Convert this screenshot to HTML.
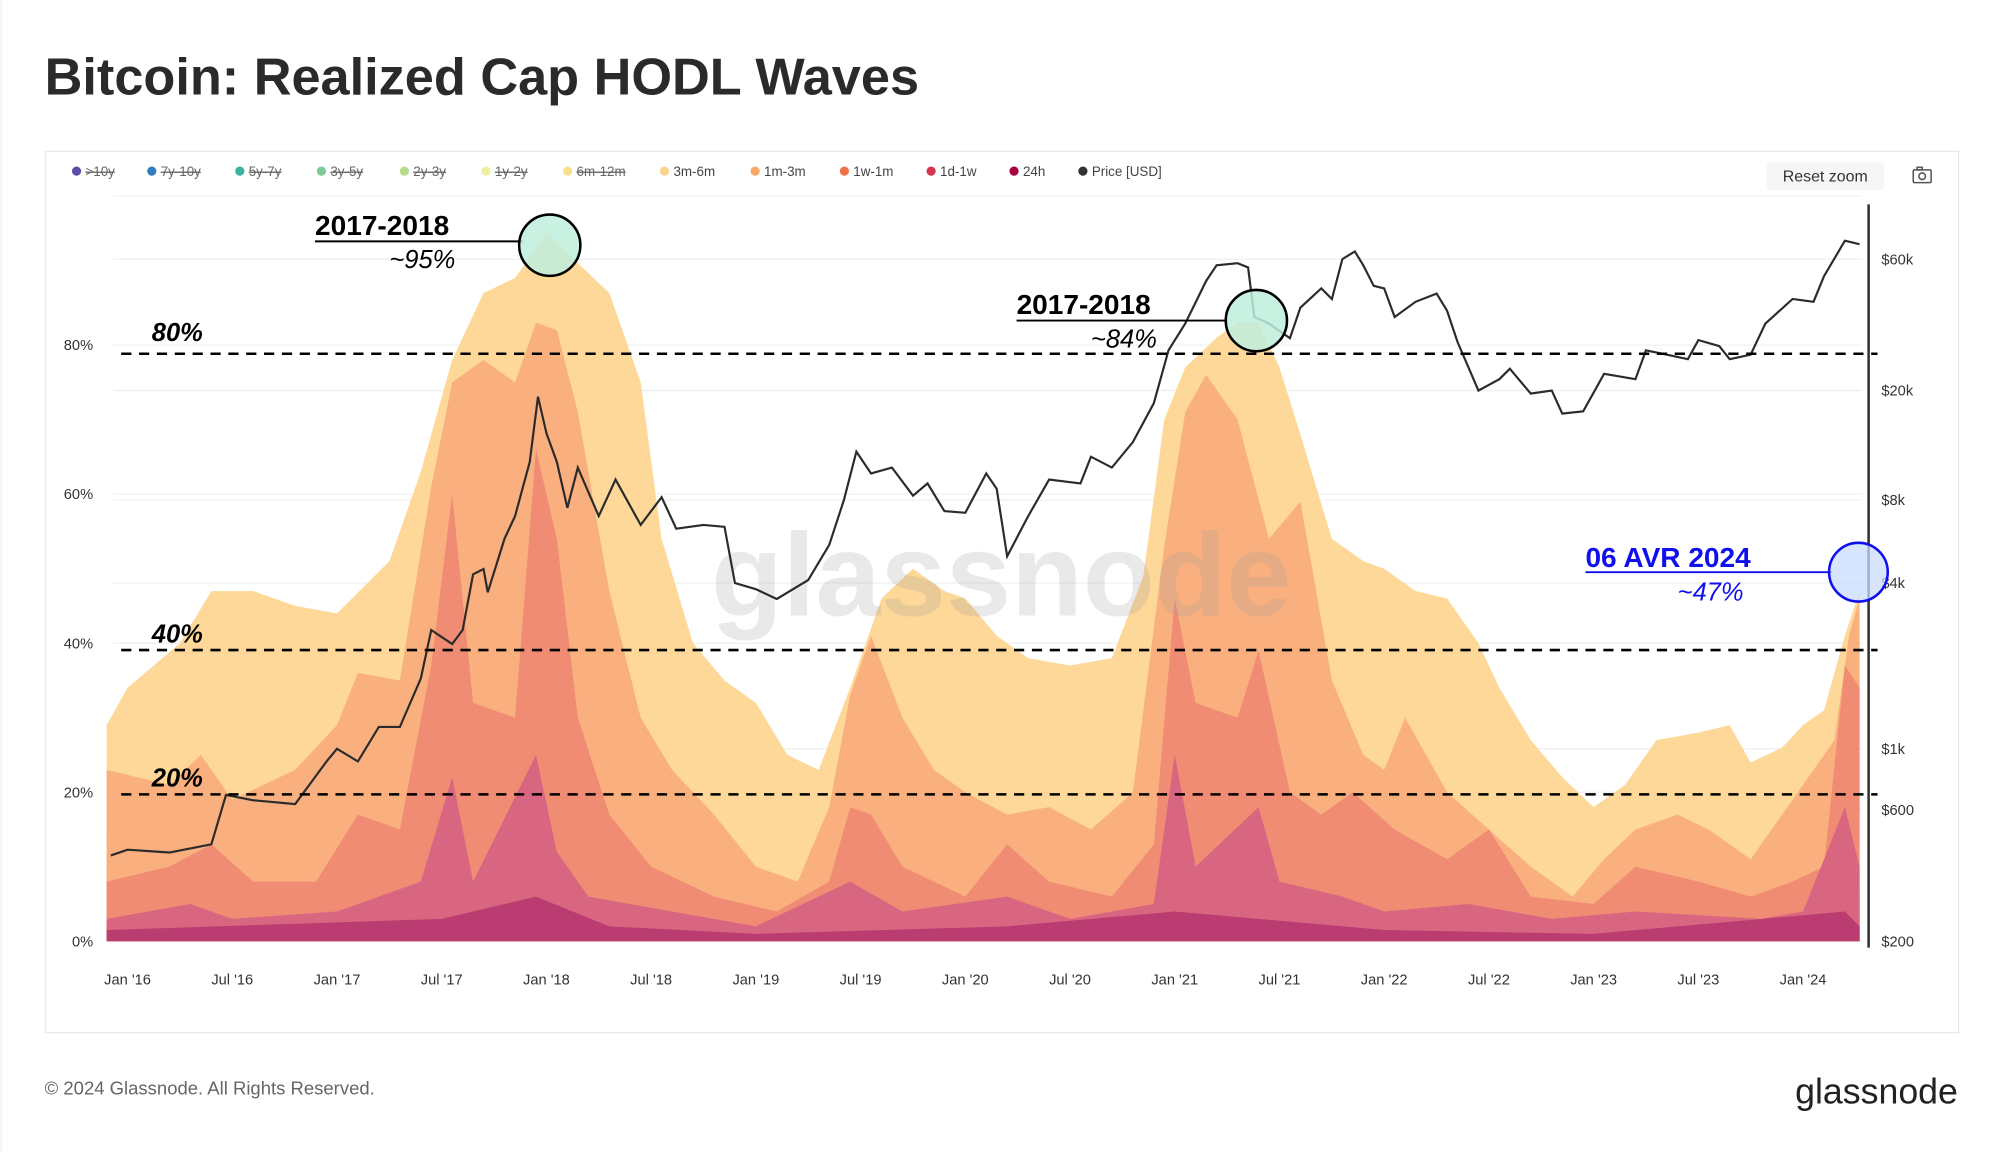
<!DOCTYPE html>
<html><head><meta charset="utf-8"><style>
html,body{margin:0;padding:0;background:#fff;width:2000px;height:1152px;overflow:hidden}
svg{display:block}
text{font-family:"Liberation Sans",sans-serif}
</style></head><body>
<svg id="chart" width="2000" height="1152" viewBox="0 0 1568 902" preserveAspectRatio="none" xmlns="http://www.w3.org/2000/svg">
<rect width="1568" height="902" fill="#fff"/>
<line x1="1" y1="0" x2="1" y2="902" stroke="#eee"/>
<text x="35" y="74" font-size="41" font-weight="bold" fill="#2a2a2a">Bitcoin: Realized Cap HODL Waves</text>
<rect x="35.5" y="118.5" width="1500" height="690" fill="#fff" stroke="#e8e8e8"/>
<g id="legend" font-size="10.5" fill="#444"></g>
<g><rect x="1385" y="127" width="92" height="22" rx="3" fill="#f6f6f6"/><text x="1431" y="142" font-size="12.5" text-anchor="middle" fill="#333">Reset zoom</text></g>
<g fill="none" stroke="#555" stroke-width="1.2"><rect x="1500" y="133" width="14" height="10" rx="1"/><circle cx="1507" cy="138" r="2.6"/><rect x="1503" y="131" width="4" height="2"/></g>
<g id="grid"></g>
<g id="bands"></g>
<text x="785" y="482" font-size="92" fill="#999" fill-opacity="0.22" text-anchor="middle" font-weight="bold">glassnode</text>
<path id="price" fill="none" stroke="#2b2b2b" stroke-width="1.7"/>
<line x1="1465" y1="160" x2="1465" y2="742" stroke="#333" stroke-width="2"/>
<g id="axes" font-size="11.5" fill="#333"></g>
<g>
<g stroke="#000" stroke-width="2" stroke-dasharray="8,6"><line x1="95" y1="277" x2="1472" y2="277"/><line x1="95" y1="509" x2="1472" y2="509"/><line x1="95" y1="622" x2="1472" y2="622"/></g>
<g font-size="20" font-weight="bold" font-style="italic" fill="#000"><text x="119" y="267">80%</text><text x="119" y="503">40%</text><text x="119" y="616">20%</text></g>
<text x="247" y="184" font-size="22" font-weight="bold">2017-2018</text><line x1="247" y1="189" x2="410" y2="189" stroke="#000" stroke-width="1.5"/>
<text x="357" y="210" font-size="20" font-style="italic" text-anchor="end">~95%</text>
<circle cx="431" cy="192" r="24" fill="#bfeedd" fill-opacity="0.85" stroke="#000" stroke-width="2"/>
<text x="797" y="246" font-size="22" font-weight="bold">2017-2018</text><line x1="797" y1="251" x2="962" y2="251" stroke="#000" stroke-width="1.5"/>
<text x="907" y="272" font-size="20" font-style="italic" text-anchor="end">~84%</text>
<circle cx="985" cy="251" r="24" fill="#bfeedd" fill-opacity="0.85" stroke="#000" stroke-width="2"/>
<text x="1243" y="444" font-size="22" font-weight="bold" fill="#1010ee">06 AVR 2024</text><line x1="1243" y1="448" x2="1436" y2="448" stroke="#1010ee" stroke-width="1.5"/>
<text x="1367" y="470" font-size="20" font-style="italic" text-anchor="end" fill="#1010ee">~47%</text>
<circle cx="1457" cy="448" r="23" fill="#c9dcff" fill-opacity="0.75" stroke="#1010ee" stroke-width="2"/>
</g>
<text x="35" y="857" font-size="14.5" fill="#666">© 2024 Glassnode. All Rights Reserved.</text>
<text x="1535" y="864" font-size="28" text-anchor="end" fill="#222">glassnode</text>
</svg>
<script>
const legendNames=[">10y","7y-10y","5y-7y","3y-5y","2y-3y","1y-2y","6m-12m","3m-6m","1m-3m","1w-1m","1d-1w","24h","Price [USD]"];
const legendColors=["#5b4ea8","#2f7fc1","#3bb3a0","#7fc99a","#b6dc8c","#eef0a0","#f7e08c","#fdd291","#f9a866","#f07048","#d8344c","#a8003f","#333"];
const legendStruck=[1,1,1,1,1,1,1,0,0,0,0,0,0];
const legendX=[56,115,184,248,313,377,441,517,588,658,726,791,845];

const pctTicks=[0,20,40,60,80];
const priceTicks=[200,600,1000,4000,8000,20000,60000];
const priceTickLabels=["$200","$600","$1k","$4k","$8k","$20k","$60k"];
const xTickDates=[2016,2016.5,2017,2017.5,2018,2018.5,2019,2019.5,2020,2020.5,2021,2021.5,2022,2022.5,2023,2023.5,2024];
const xTickLabels=["Jan '16","Jul '16","Jan '17","Jul '17","Jan '18","Jul '18","Jan '19","Jul '19","Jan '20","Jul '20","Jan '21","Jul '21","Jan '22","Jul '22","Jan '23","Jul '23","Jan '24"];

const d3m6m=[2015.9,2016,2016.25,2016.4,2016.6,2016.8,2017,2017.25,2017.4,2017.55,2017.7,2017.85,2018,2018.15,2018.3,2018.45,2018.55,2018.7,2018.85,2019,2019.15,2019.3,2019.45,2019.6,2019.75,2019.9,2020,2020.15,2020.3,2020.5,2020.7,2020.85,2020.95,2021.05,2021.2,2021.3,2021.4,2021.5,2021.6,2021.75,2021.9,2022,2022.15,2022.3,2022.45,2022.55,2022.7,2022.85,2023,2023.15,2023.3,2023.5,2023.65,2023.75,2023.9,2024,2024.1,2024.2,2024.27];
const v3m6m=[29,34,40,47,47,45,44,51,63,78,87,89,95,91,87,75,54,40,35,32,25,23,34,46,50,47,46,41,38,37,38,49,70,77,81,83,83,77,68,54,51,50,47,46,40,34,27,22,18,21,27,28,29,24,26,29,31,41,47];
const d1m3m=[2015.9,2016.2,2016.35,2016.5,2016.8,2017,2017.1,2017.3,2017.45,2017.55,2017.7,2017.85,2017.95,2018.05,2018.15,2018.3,2018.45,2018.6,2018.8,2019,2019.2,2019.35,2019.45,2019.55,2019.7,2019.85,2020,2020.2,2020.4,2020.6,2020.8,2020.95,2021.05,2021.15,2021.3,2021.45,2021.6,2021.75,2021.9,2022,2022.1,2022.3,2022.5,2022.7,2022.9,2023.05,2023.2,2023.4,2023.55,2023.75,2023.9,2024.05,2024.15,2024.22,2024.27];
const v1m3m=[23,21,25,19,23,29,36,35,61,75,78,75,83,82,71,47,30,23,17,10,8,18,33,41,30,23,20,17,18,15,20,53,71,76,70,54,59,35,25,23,30,20,15,10,6,11,15,17,15,11,17,23,27,41,46];
const d1w1m=[2015.9,2016.2,2016.4,2016.6,2016.9,2017.1,2017.3,2017.45,2017.55,2017.65,2017.85,2017.95,2018.05,2018.15,2018.3,2018.5,2018.8,2019.1,2019.35,2019.45,2019.55,2019.7,2020,2020.2,2020.4,2020.7,2020.9,2021,2021.1,2021.3,2021.4,2021.55,2021.7,2021.85,2022.05,2022.3,2022.5,2022.7,2023,2023.2,2023.5,2023.75,2023.95,2024.1,2024.2,2024.27];
const v1w1m=[8,10,13,8,8,17,15,37,60,32,30,66,54,30,17,10,6,4,8,18,17,10,6,13,8,6,13,46,32,30,39,20,17,20,15,11,15,6,5,10,8,6,8,10,37,34];
const d1d1w=[2015.9,2016.3,2016.5,2017,2017.4,2017.55,2017.65,2017.95,2018.05,2018.2,2018.6,2019,2019.45,2019.7,2020.2,2020.5,2020.9,2021,2021.1,2021.4,2021.5,2021.8,2022,2022.4,2022.8,2023.2,2023.8,2024,2024.2,2024.27];
const v1d1w=[3,5,3,4,8,22,8,25,12,6,4,2,8,4,6,3,5,25,10,18,8,6,4,5,3,4,3,4,18,10];
const d24h=[2015.9,2017.5,2017.95,2018.3,2019,2020.2,2021,2021.4,2022,2023,2024.2,2024.27];
const v24h=[1.5,3,6,2,1,2,4,3,1.5,1,4,2];

const priceDates=[2015.92,2016,2016.2,2016.4,2016.47,2016.6,2016.8,2016.95,2017,2017.1,2017.2,2017.3,2017.4,2017.45,2017.55,2017.6,2017.65,2017.7,2017.72,2017.8,2017.85,2017.92,2017.96,2018,2018.05,2018.1,2018.15,2018.25,2018.33,2018.45,2018.55,2018.62,2018.75,2018.85,2018.9,2019,2019.1,2019.25,2019.35,2019.42,2019.48,2019.55,2019.65,2019.75,2019.82,2019.9,2020,2020.1,2020.15,2020.2,2020.3,2020.4,2020.55,2020.6,2020.7,2020.8,2020.9,2020.97,2021.05,2021.15,2021.2,2021.3,2021.35,2021.38,2021.45,2021.55,2021.6,2021.7,2021.75,2021.8,2021.86,2021.9,2021.95,2022,2022.05,2022.15,2022.25,2022.3,2022.35,2022.45,2022.55,2022.6,2022.7,2022.8,2022.85,2022.95,2023.05,2023.2,2023.25,2023.35,2023.45,2023.5,2023.6,2023.65,2023.75,2023.82,2023.95,2024.05,2024.1,2024.2,2024.27];
const priceValues=[410,430,420,450,680,650,630,900,1000,900,1200,1200,1800,2700,2400,2700,4300,4500,3700,5800,7000,11000,19000,14000,11000,7500,10500,7000,9500,6500,8200,6300,6500,6400,4000,3800,3500,4100,5500,8000,12000,10000,10500,8300,9200,7300,7200,10000,8800,5000,7000,9500,9200,11500,10500,13000,18000,28000,35000,50000,57000,58000,56000,37000,35000,31000,40000,47000,43000,60000,64000,57000,48000,47000,37000,42000,45000,39000,30000,20000,22000,24000,19500,20000,16500,16800,23000,22000,28000,27000,26000,30500,29000,26000,27000,35000,43000,42000,52000,70000,68000];

const NS="http://www.w3.org/2000/svg";
const xOf=t=>100+(t-2016)*164.2;
const yPct=p=>737-p*5.835;
const yPrice=v=>737-(Math.log10(v)-Math.log10(200))*215.6;
function mk(tag,attrs,parent,txt){const e=document.createElementNS(NS,tag);for(const k in attrs)e.setAttribute(k,attrs[k]);if(txt!==undefined)e.textContent=txt;parent.appendChild(e);return e;}

const lg=document.getElementById('legend');
legendNames.forEach((n,i)=>{
  const g=mk('g',{},lg);
  
  
  mk('circle',{cx:legendX[i]+4,cy:134,r:3.6,fill:legendColors[i]},g);
  const t=mk('text',{x:legendX[i]+11,y:138},g,n);
  if(legendStruck[i]){t.setAttribute('text-decoration','line-through');t.setAttribute('fill','#666');}
});

const grid=document.getElementById('grid');
pctTicks.concat([100]).forEach(p=>mk('line',{x1:89,x2:1460,y1:yPct(p),y2:yPct(p),stroke:'#f0f0f0'},grid));
priceTicks.forEach(v=>mk('line',{x1:89,x2:1460,y1:yPrice(v),y2:yPrice(v),stroke:'#f0f0f0'},grid));

const bands=document.getElementById('bands');
const layers=[[d3m6m,v3m6m,'#fdd898','band-3m-6m'],[d1m3m,v1m3m,'#f9b07e','band-1m-3m'],[d1w1m,v1w1m,'#ef8c73','band-1w-1m'],[d1d1w,v1d1w,'#d86680','band-1d-1w'],[d24h,v24h,'#bb3c70','band-24h']];
layers.forEach(([d,v,c,n])=>{
  let s='M'+xOf(d[0])+','+yPct(0);
  d.forEach((t,i)=>{s+=' L'+xOf(t).toFixed(1)+','+yPct(v[i]).toFixed(1);});
  s+=' L'+xOf(d[d.length-1])+','+yPct(0)+'Z';
  const p=mk('path',{d:s,fill:c},bands);
  
  
});

let ps='';
priceDates.forEach((t,i)=>{ps+=(i?' L':'M')+xOf(t).toFixed(1)+','+yPrice(priceValues[i]).toFixed(1);});
document.getElementById('price').setAttribute('d',ps);

const ax=document.getElementById('axes');
pctTicks.forEach(p=>{const t=mk('text',{x:73,y:yPct(p)+4,'text-anchor':'end'},ax,p+'%');
  });
priceTicks.forEach((v,i)=>{const t=mk('text',{x:1475,y:yPrice(v)+4},ax,priceTickLabels[i]);
  });
xTickDates.forEach((d,i)=>{const t=mk('text',{x:xOf(d),y:771,'text-anchor':'middle'},ax,xTickLabels[i]);
  });
</script>
</body></html>
